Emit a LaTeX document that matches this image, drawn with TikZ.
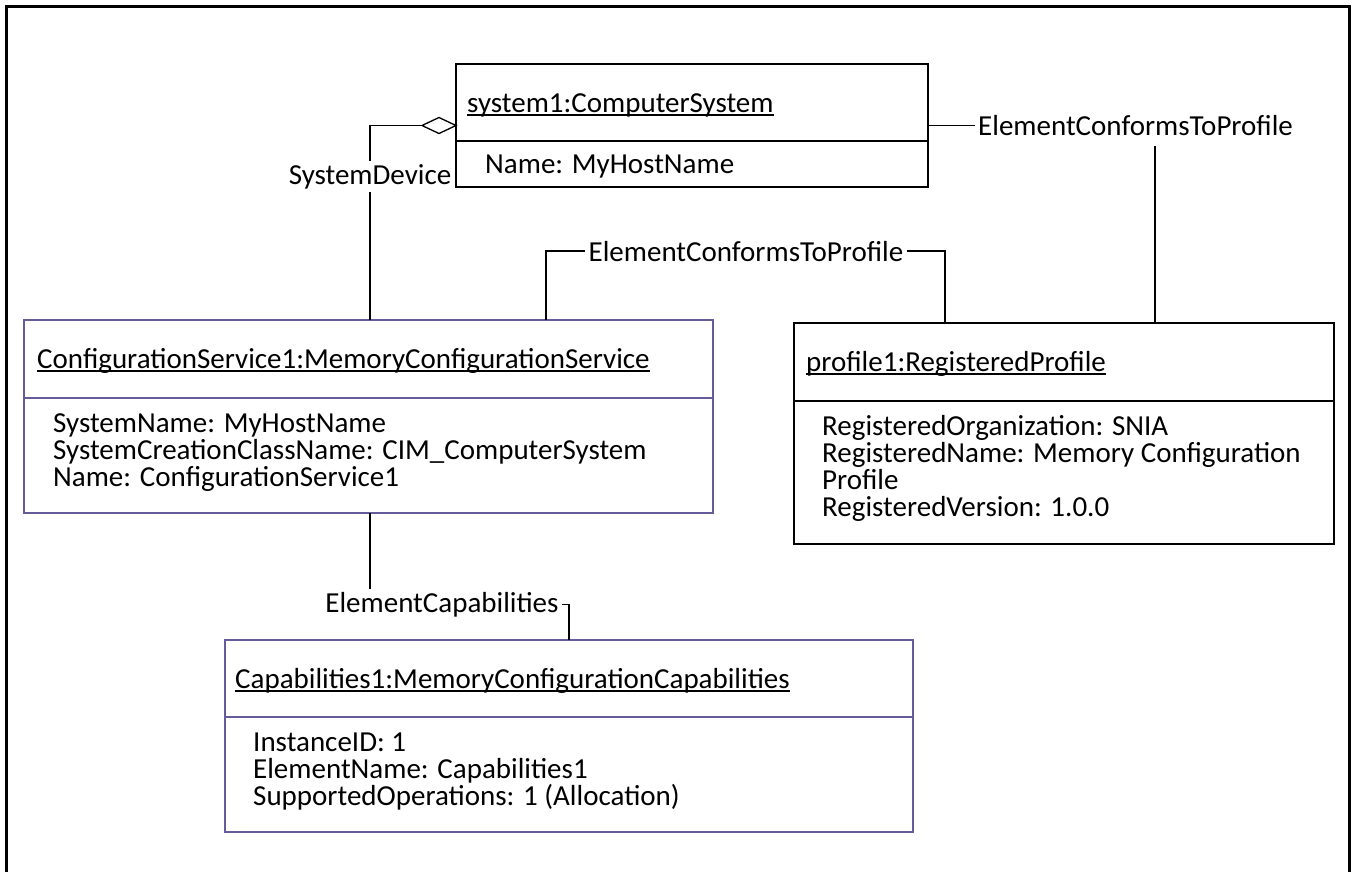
\documentclass[tikz,border=0pt]{standalone}
\usepackage{fontspec}
\setmainfont{Carlito}
\usetikzlibrary{calc}
\definecolor{umlpurple}{RGB}{100,92,155}
\tikzset{
  objbox/.style={draw=black, line width=1.3pt, inner sep=0pt, outer sep=0pt, anchor=north west},
  purplebox/.style={objbox, draw=umlpurple},
  txt/.style={inner sep=0pt, anchor=base west, font=\fontsize{29}{27}\selectfont},
  lbl/.style={inner sep=3pt, font=\fontsize{29}{27}\selectfont},
  conn/.style={line width=1.3pt, black},
  uline/.style={line width=1.2pt, black},
}
\begin{document}
\begin{tikzpicture}[x=1pt, y=-1pt]
\useasboundingbox (0,0) rectangle (1352,871);
% outer frame
\draw[line width=3pt] (6,880) -- (6,6) -- (1349,6) -- (1349,880);

% ---------- system1:ComputerSystem ----------
\node[objbox, minimum width=472pt, minimum height=123pt] (sys) at (456,64) {};
\draw[line width=1.3pt] (456,141) -- (928,141);
\node[txt] (sysT) at (467,112) {system1:ComputerSystem};
\draw[uline] ([yshift=-3pt]sysT.base west) -- ([yshift=-3pt]sysT.base east);
\node[txt] (sysA) at (485,173) {Name: MyHostName};

% ---------- ConfigurationService1 ----------
\node[purplebox, minimum width=689pt, minimum height=193pt] (cs) at (24,320) {};
\draw[line width=1.3pt, umlpurple] (24,398) -- (713,398);
\node[txt] (csT) at (37,368) {ConfigurationService1:MemoryConfigurationService};
\draw[uline] ([yshift=-3pt]csT.base west) -- ([yshift=-3pt]csT.base east);
\node[txt] (csA1) at (53,432) {SystemName: MyHostName};
\node[txt] (csA2) at (53,459) {SystemCreationClassName: CIM\_ComputerSystem};
\node[txt] (csA3) at (53,486) {Name: ConfigurationService1};

% ---------- profile1:RegisteredProfile ----------
\node[objbox, minimum width=540pt, minimum height=221pt] (prof) at (794,323) {};
\draw[line width=1.3pt] (794,401) -- (1334,401);
\node[txt] (profT) at (806,371) {profile1:RegisteredProfile};
\draw[uline] ([yshift=-3pt]profT.base west) -- ([yshift=-3pt]profT.base east);
\node[txt] (profA1) at (822,435) {RegisteredOrganization: SNIA};
\node[txt] (profA2) at (822,462) {RegisteredName: Memory Configuration};
\node[txt] (profA3) at (822,489) {Profile};
\node[txt] (profA4) at (822,516) {RegisteredVersion: 1.0.0};

% ---------- Capabilities1 ----------
\node[purplebox, minimum width=688pt, minimum height=192pt] (cap) at (225,640) {};
\draw[line width=1.3pt, umlpurple] (225,717) -- (913,717);
\node[txt] (capT) at (235,688) {Capabilities1:MemoryConfigurationCapabilities};
\draw[uline] ([yshift=-3pt]capT.base west) -- ([yshift=-3pt]capT.base east);
\node[txt] (capA1) at (253,751) {InstanceID: 1};
\node[txt] (capA2) at (253,778) {ElementName: Capabilities1};
\node[txt] (capA3) at (253,805) {SupportedOperations: 1 (Allocation)};

% ---------- SystemDevice (aggregation) ----------
\coordinate (dtip) at (sys.west);
\coordinate (dleft) at ($(dtip)+(-34,0)$);
\draw[conn, fill=white] (dtip) -- ++(-17,-8) -- (dleft) -- ++(17,8) -- cycle;
\node[lbl, anchor=base] (sd) at (370,184) {SystemDevice};
\draw[conn] (dleft) -| (sd.north);
\draw[conn] (sd.south) -- (sd.south |- cs.north);

% ---------- ElementConformsToProfile (service -> profile) ----------
\node[lbl, anchor=base] (ectp1) at (746,261) {ElementConformsToProfile};
\coordinate (csTop) at ($(cs.north west)+(522,0)$);
\coordinate (profTopL) at ($(prof.north west)+(151,0)$);
\draw[conn] (csTop) |- (ectp1.west);
\draw[conn] (ectp1.east) -| (profTopL);

% ---------- ElementConformsToProfile (system -> profile) ----------
\node[lbl, anchor=west] (ectp2) at ($(sys.east)+(47,0)$) {ElementConformsToProfile};
\coordinate (profTopR) at ($(prof.north west)+(361,0)$);
\draw[conn] (sys.east) -- (ectp2.west);
\draw[conn] ([yshift=-7pt]ectp2.south -| profTopR) -- (profTopR);

% ---------- ElementCapabilities ----------
\node[lbl, anchor=base] (ec) at (442,612) {ElementCapabilities};
\coordinate (csBot) at ($(cs.south west)+(346,0)$);
\coordinate (capTop) at ($(cap.north west)+(344,0)$);
\draw[conn] (csBot) -- (csBot |- ec.north);
\draw[conn] (ec.east) -| (capTop);
\end{tikzpicture}
\end{document}
